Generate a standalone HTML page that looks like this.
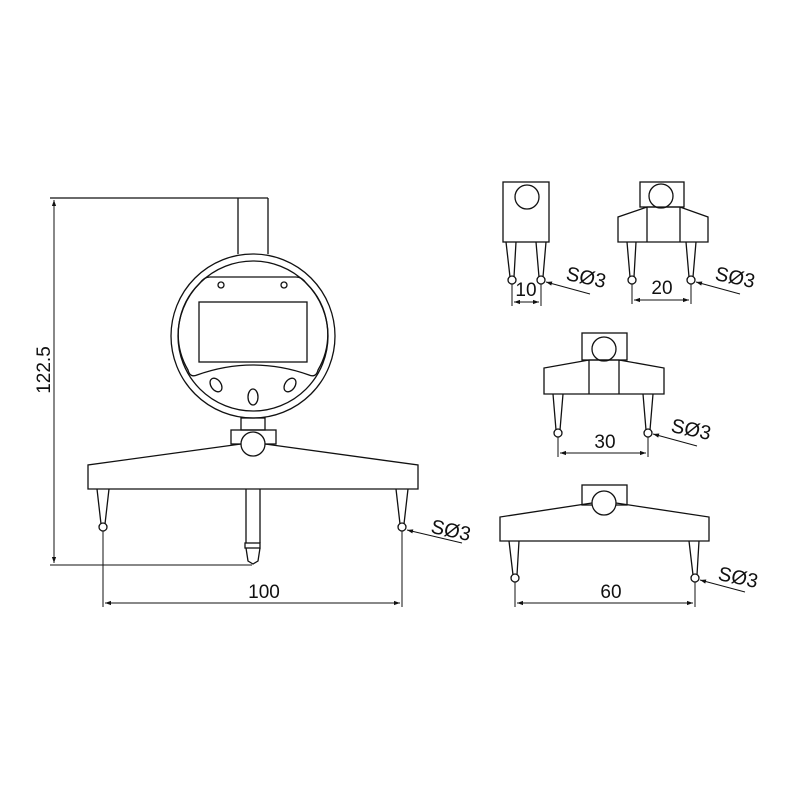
<!DOCTYPE html>
<html><head><meta charset="utf-8"><style>
html,body{margin:0;padding:0;background:#fff}
svg{display:block}
text{font-family:"Liberation Sans",sans-serif;fill:#111}
</style></head><body>
<svg width="800" height="800" viewBox="0 0 800 800" xmlns="http://www.w3.org/2000/svg">
<defs>
<marker id="a" viewBox="0 0 10 10" refX="10" refY="5" markerWidth="10" markerHeight="6" orient="auto-start-reverse" markerUnits="userSpaceOnUse"><path d="M0,1.5 L10,5 L0,8.5 z" fill="#111"/></marker>
</defs>
<g fill="none" stroke="#111" stroke-width="1.3">
<!-- main gauge -->
<path d="M50,198 H268 M238,198 V254 M268,198 V254"/>
<line x1="54" y1="200" x2="54" y2="563" marker-start="url(#a)" marker-end="url(#a)" stroke-width="1"/>
<path d="M50,565 H252" stroke-width="1"/>
<circle cx="253" cy="336" r="82"/>
<circle cx="253" cy="336" r="75"/>
<path d="M210,277 H296 Q302,277 306,283 A71,71 0 0 1 318,370 Q316,378 309,375 Q253,355 197,375 Q190,378 188,370 A71,71 0 0 1 200,283 Q204,277 210,277 Z"/>
<rect x="199" y="302" width="108" height="60"/>
<circle cx="221" cy="285" r="3"/><circle cx="284" cy="285" r="3"/>
<ellipse cx="216" cy="385" rx="5" ry="7.5" transform="rotate(-35 216 385)"/>
<ellipse cx="253" cy="397" rx="5" ry="8"/>
<ellipse cx="290" cy="385" rx="5" ry="7.5" transform="rotate(35 290 385)"/>
<rect x="241" y="418" width="24" height="12"/>
<rect x="231" y="430" width="45" height="14"/>
<path d="M241,444 L88,465 V489 H418 V465 L265,444"/>
<circle cx="253" cy="444" r="12" fill="#fff"/>
<path d="M246,489 V543 M260,489 V543"/>
<rect x="245" y="543" width="15" height="5"/>
<path d="M246,548 L248,561 L253,564 L258,561 L260,548"/>
<path d="M97,489 L101,524 M109,489 L105,524"/>
<circle cx="103" cy="527" r="4"/>
<path d="M396,489 L400,524 M408,489 L404,524"/>
<circle cx="402" cy="527" r="4"/>
<path d="M103,531 V607 M402,531 V607" stroke-width="1"/>
<line x1="105" y1="603" x2="400" y2="603" marker-start="url(#a)" marker-end="url(#a)" stroke-width="1"/>
<line x1="462" y1="543" x2="407" y2="530" marker-end="url(#a)" stroke-width="1"/>

<!-- small 1 -->
<rect x="503" y="182" width="46" height="60"/>
<circle cx="527" cy="197" r="12"/>
<path d="M506,242 L510,277 M516,242 L514,277 M536,242 L539,277 M546,242 L543,277"/>
<circle cx="512" cy="280" r="4"/><circle cx="541" cy="280" r="4"/>
<path d="M512,284 V306 M541,284 V306" stroke-width="1"/>
<line x1="514" y1="302" x2="539" y2="302" marker-start="url(#a)" marker-end="url(#a)" stroke-width="1"/>
<line x1="590" y1="294" x2="546" y2="282" marker-end="url(#a)" stroke-width="1"/>

<!-- small 2 -->
<rect x="640" y="182" width="44" height="25"/>
<circle cx="661" cy="196" r="12" fill="#fff"/>
<path d="M647,207 L618,217 V242 H708 V217 L680,207 Z M647,207 V242 M680,207 V242"/>
<path d="M627,242 L630,277 M636,242 L634,277 M686,242 L689,277 M696,242 L693,277"/>
<circle cx="632" cy="280" r="4"/><circle cx="691" cy="280" r="4"/>
<path d="M632,284 V304 M691,284 V304" stroke-width="1"/>
<line x1="634" y1="300" x2="689" y2="300" marker-start="url(#a)" marker-end="url(#a)" stroke-width="1"/>
<line x1="740" y1="294" x2="696" y2="282" marker-end="url(#a)" stroke-width="1"/>

<!-- small 3 -->
<rect x="582" y="333" width="45" height="27"/>
<circle cx="604" cy="349" r="12"/>
<path d="M589,360 L544,368 V394 H664 V368 L619,360 Z M589,360 V394 M619,360 V394"/>
<path d="M553,394 L556,430 M563,394 L560,430 M643,394 L646,430 M653,394 L650,430"/>
<circle cx="558" cy="433" r="4"/><circle cx="648" cy="433" r="4"/>
<path d="M558,437 V457 M648,437 V457" stroke-width="1"/>
<line x1="560" y1="453" x2="646" y2="453" marker-start="url(#a)" marker-end="url(#a)" stroke-width="1"/>
<line x1="697" y1="446" x2="653" y2="434" marker-end="url(#a)" stroke-width="1"/>

<!-- small 4 -->
<rect x="582" y="485" width="45" height="20"/>
<path d="M592,503 L500,517 V541 H709 V517 L616,503"/>
<circle cx="604" cy="503" r="12" fill="#fff"/>
<path d="M509,541 L513,575 M519,541 L517,575 M689,541 L693,575 M699,541 L697,575"/>
<circle cx="515" cy="578" r="4"/><circle cx="695" cy="578" r="4"/>
<path d="M515,582 V607 M695,582 V607" stroke-width="1"/>
<line x1="517" y1="603" x2="693" y2="603" marker-start="url(#a)" marker-end="url(#a)" stroke-width="1"/>
<line x1="745" y1="592" x2="700" y2="580" marker-end="url(#a)" stroke-width="1"/>
</g>

<g font-size="19">
<text x="264" y="598" text-anchor="middle">100</text>
<text transform="translate(50,370) rotate(-90)" text-anchor="middle">122.5</text>
<text x="451" y="537" text-anchor="middle" font-size="20" transform="rotate(12 451 530)">SØ3</text>
<text x="526" y="296" text-anchor="middle">10</text>
<text x="586" y="284" text-anchor="middle" font-size="20" transform="rotate(12 586 278)">SØ3</text>
<text x="662" y="294" text-anchor="middle">20</text>
<text x="735" y="284" text-anchor="middle" font-size="20" transform="rotate(12 735 278)">SØ3</text>
<text x="605" y="448" text-anchor="middle">30</text>
<text x="691" y="436" text-anchor="middle" font-size="20" transform="rotate(12 691 430)">SØ3</text>
<text x="611" y="598" text-anchor="middle">60</text>
<text x="738" y="584" text-anchor="middle" font-size="20" transform="rotate(12 738 578)">SØ3</text>
</g>
</svg>
</body></html>
